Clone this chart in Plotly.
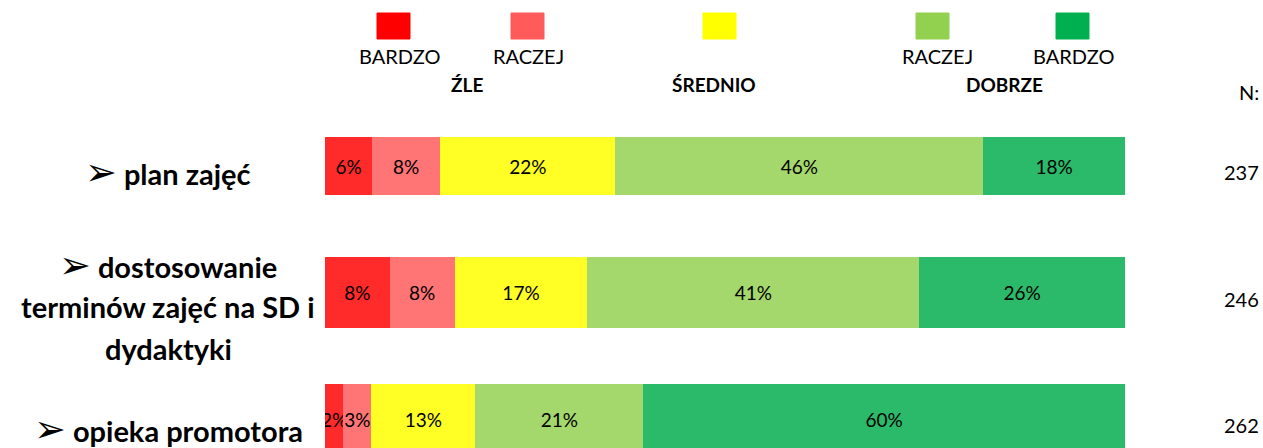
import plotly.graph_objects as go

# ---------------- data ----------------
ARROW = "<span style='font-family:DejaVu Sans;font-size:38px'>➢</span> "
categories = ["plan zajęć",
              "dostosowanie<br>terminów zajęć na SD i<br>dydaktyki",
              "opieka promotora"]
bardzo_zle = [5.9, 8.1, 2.3]
raczej_zle = [8.5, 8.1, 3.5]
srednio = [21.9, 16.6, 13.0]
raczej_dobrze = [46.0, 41.5, 21.0]
bardzo_dobrze = [17.7, 25.7, 60.2]
labels_bz = ["6%", "8%", "2%"]
labels_rz = ["8%", "8%", "3%"]
labels_sr = ["22%", "17%", "13%"]
labels_rd = ["46%", "41%", "21%"]
labels_bd = ["18%", "26%", "60%"]
n_values = [237, 246, 262]

series_names = ["BARDZO ŹLE", "RACZEJ ŹLE", "ŚREDNIO", "RACZEJ DOBRZE", "BARDZO DOBRZE"]
legend_top = ["BARDZO", "RACZEJ", "", "RACZEJ", "BARDZO"]
group_labels = ["ŹLE", "ŚREDNIO", "DOBRZE"]

bar_colors = ["#FF2A2A", "#FF7474", "#FFFF26", "#A4D86C", "#2ABA6A"]
swatch_colors = ["#FF0000", "#FF5B5B", "#FFFF00", "#92D050", "#00B050"]

W, H = 1263, 448
L, R = 325, 1125

def px_x(p):
    return (p - L) / (R - L)

def px_y(p):
    return 1 - p / H

ypos = list(range(len(categories)))
bar_widths = [0.466, 0.56, 0.56]

fig = go.Figure()
all_vals = [bardzo_zle, raczej_zle, srednio, raczej_dobrze, bardzo_dobrze]
all_labels = [labels_bz, labels_rz, labels_sr, labels_rd, labels_bd]
for name, vals, labs, col in zip(series_names, all_vals, all_labels, bar_colors):
    fig.add_trace(go.Bar(
        y=ypos, x=vals, orientation="h", name=name,
        width=bar_widths,
        marker=dict(color=col, line=dict(width=0)),
        text=labs, textposition="inside", insidetextanchor="middle",
        constraintext="none", textangle=0,
        textfont=dict(family="Lato, Open Sans, sans-serif", size=19, color="#000000"),
        showlegend=False, hoverinfo="skip",
    ))

unit = 126.5
top_val = -166 / unit
bottom_val = top_val + H / unit

fig.update_layout(
    barmode="stack",
    width=W, height=H,
    margin=dict(l=L, r=W - R, t=0, b=0, pad=0),
    paper_bgcolor="white", plot_bgcolor="white",
    xaxis=dict(range=[0, 100], visible=False, fixedrange=True),
    yaxis=dict(range=[bottom_val, top_val], visible=False, fixedrange=True),
    bargap=0,
    showlegend=False,
)

annotations = []
# category labels (multi-line labels drawn line by line for Excel-like spacing)
label_shifts = [-6, -14, -10]
line_gap = 42
for i, cat in enumerate(categories):
    lines = cat.split("<br>")
    n = len(lines)
    for j, line in enumerate(lines):
        txt = (ARROW + line) if j == 0 else line
        annotations.append(dict(
            x=px_x(168), xref="paper", y=ypos[i], yref="y",
            yshift=label_shifts[i] + ((n - 1) / 2 - j) * line_gap,
            text=txt, showarrow=False, xanchor="center", yanchor="middle", align="center",
            font=dict(family="Lato, sans-serif", size=29, color="#000000", weight="bold"),
        ))
# N values
for i, nv in enumerate(n_values):
    annotations.append(dict(
        x=px_x(1241), xref="paper", y=ypos[i], yref="y", yshift=-6,
        text=str(nv), showarrow=False, xanchor="center", yanchor="middle",
        font=dict(family="Lato, sans-serif", size=20, color="#000000"),
    ))
annotations.append(dict(
    x=px_x(1249), xref="paper", y=px_y(92), yref="paper",
    text="N:", showarrow=False, xanchor="center", yanchor="middle",
    font=dict(family="Lato, sans-serif", size=20, color="#000000"),
))

# legend
swatch_x = [377, 511, 703, 916, 1056]
label_cx = [399, 528, 720, 937, 1073]
shapes = []
for sx, col, lab, cx in zip(swatch_x, swatch_colors, legend_top, label_cx):
    x0, x1 = px_x(sx), px_x(sx + 33)
    y0, y1 = px_y(39), px_y(13)
    shapes.append(dict(type="rect", xref="paper", yref="paper",
                       x0=x0, x1=x1, y0=y0, y1=y1,
                       fillcolor=col, line=dict(width=1, color=col), layer="above"))
    if lab:
        annotations.append(dict(
            x=px_x(cx), xref="paper", y=px_y(56), yref="paper",
            text=lab, showarrow=False, xanchor="center", yanchor="middle",
            font=dict(family="Lato, sans-serif", size=20, color="#000000"),
        ))
group_cx = [467, 714, 1004]
for g, cx in zip(group_labels, group_cx):
    annotations.append(dict(
        x=px_x(cx), xref="paper", y=px_y(85), yref="paper",
        text=g, showarrow=False, xanchor="center", yanchor="middle",
        font=dict(family="Lato, sans-serif", size=19, color="#000000", weight="bold"),
    ))

fig.update_layout(annotations=annotations, shapes=shapes)
fig.write_html(
    "out.html",
    config={"displayModeBar": False, "staticPlot": True},
    post_script="document.body.style.margin='0';document.body.style.overflow='hidden';",
)
